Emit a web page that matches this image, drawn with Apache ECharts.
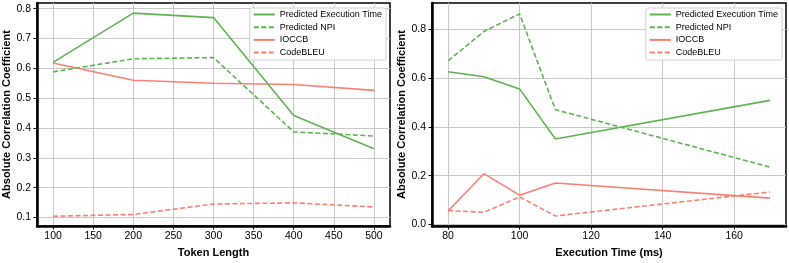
<!DOCTYPE html>
<html>
<head>
<meta charset="utf-8">
<script src="https://cdn.jsdelivr.net/npm/echarts@6/dist/echarts.min.js"></script>
<style>
html,body{margin:0;padding:0;background:#fff;}
#c{width:789px;height:263px;}
</style>
</head>
<body>
<div id="c"></div>
<script>
// Left panel: Token Length
const tokenLength = [100, 200, 300, 400, 500];
const leftExecTime = [0.620, 0.785, 0.770, 0.442, 0.330];
const leftNPI = [0.588, 0.632, 0.636, 0.387, 0.373];
const leftIOCCB = [0.618, 0.560, 0.550, 0.546, 0.526];
const leftCodeBLEU = [0.104, 0.110, 0.145, 0.149, 0.135];
const leftXTicks = [100, 150, 200, 250, 300, 350, 400, 450, 500];
const leftYTicks = [0.1, 0.2, 0.3, 0.4, 0.5, 0.6, 0.7, 0.8];

// Right panel: Execution Time (ms)
const execTime = [80, 90, 100, 110, 170];
const rightExecTime = [0.625, 0.605, 0.555, 0.350, 0.508];
const rightNPI = [0.670, 0.790, 0.862, 0.470, 0.235];
const rightIOCCB = [0.055, 0.208, 0.120, 0.170, 0.108];
const rightCodeBLEU = [0.057, 0.050, 0.113, 0.035, 0.133];
const rightXTicks = [80, 100, 120, 140, 160];
const rightYTicks = [0.0, 0.2, 0.4, 0.6, 0.8];

const seriesNames = ['Predicted Execution Time', 'Predicted NPI', 'IOCCB', 'CodeBLEU'];

const GREEN = '#5cb64e';
const RED = '#fa8072';
const FONT = 'Liberation Sans';

function pairs(xs, ys) { return xs.map((x, i) => [x, ys[i]]); }

function mkSeries(idx, xs, sets) {
  const styles = [
    {color: GREEN, type: 'solid'},
    {color: GREEN, type: [5, 2.5]},
    {color: RED, type: 'solid'},
    {color: RED, type: [5, 2.5]}
  ];
  return sets.map((ys, k) => ({
    name: seriesNames[k],
    type: 'line',
    xAxisIndex: idx, yAxisIndex: idx,
    data: pairs(xs, ys),
    symbol: 'none',
    showSymbol: false,
    animation: false,
    lineStyle: {color: styles[k].color, width: 1.6, type: styles[k].type},
    itemStyle: {color: styles[k].color},
    z: 10 - k
  }));
}

function xAxis(idx, min, max, ticks, name) {
  return {
    type: 'value', gridIndex: idx, min: min, max: max,
    name: name, nameLocation: 'middle', nameGap: 18,
    nameTextStyle: {fontFamily: FONT, fontWeight: 'bold', fontSize: 11, color: '#000'},
    axisLine: {show: true, onZero: false, lineStyle: {color: '#000', width: 2.5}},
    axisTick: {show: true, length: 3.5, customValues: ticks, lineStyle: {color: '#000', width: 1}},
    axisLabel: {customValues: ticks, margin: 5, fontFamily: FONT, fontSize: 10.5, color: '#000'},
    splitLine: {show: true, lineStyle: {color: '#c8c8c8', width: 1}}
  };
}

function yAxis(idx, min, max, ticks, name) {
  return {
    type: 'value', gridIndex: idx, min: min, max: max,
    name: name, nameLocation: 'middle', nameGap: 24,
    nameTextStyle: {fontFamily: FONT, fontWeight: 'bold', fontSize: 11, color: '#000'},
    axisLine: {show: true, onZero: false, lineStyle: {color: '#000', width: 2.5}},
    axisTick: {show: true, length: 3.5, customValues: ticks, lineStyle: {color: '#000', width: 1}},
    axisLabel: {customValues: ticks, margin: 6, fontFamily: FONT, fontSize: 10.5, color: '#000',
      formatter: v => Number(v).toFixed(1)},
    splitLine: {show: true, lineStyle: {color: '#c8c8c8', width: 1}}
  };
}

function legend(right) {
  return {
    show: true,
    orient: 'vertical', right: right, top: 8,
    data: seriesNames,
    itemWidth: 21, itemHeight: 9, itemGap: 3.7,
    padding: [2, 4, 3, 3],
    backgroundColor: '#fff', borderColor: '#cfcfcf', borderWidth: 1, borderRadius: 2,
    textStyle: {fontFamily: FONT, fontSize: 9, color: '#000'},
    itemStyle: {opacity: 0},
    selectedMode: false
  };
}

const chart = echarts.init(document.getElementById('c'), null, {renderer: 'canvas'});
chart.setOption({
  backgroundColor: '#fff',
  animation: false,
  grid: [
    {left: 37, right: 399, top: 3, bottom: 33, show: true, borderColor: '#000', borderWidth: 1.5, backgroundColor: 'transparent'},
    {left: 432, right: 3, top: 3, bottom: 33, show: true, borderColor: '#000', borderWidth: 1.5, backgroundColor: 'transparent'}
  ],
  legend: [legend(403), legend(7)],
  xAxis: [
    xAxis(0, 80, 520, leftXTicks, 'Token Length'),
    xAxis(1, 75.5, 174.5, rightXTicks, 'Execution Time (ms)')
  ],
  yAxis: [
    yAxis(0, 0.071, 0.819, leftYTicks, 'Absolute Correlation Coefficient'),
    yAxis(1, -0.0065, 0.9065, rightYTicks, 'Absolute Correlation Coefficient')
  ],
  series: [
    ...mkSeries(0, tokenLength, [leftExecTime, leftNPI, leftIOCCB, leftCodeBLEU]),
    ...mkSeries(1, execTime, [rightExecTime, rightNPI, rightIOCCB, rightCodeBLEU])
  ]
});
</script>
</body>
</html>
